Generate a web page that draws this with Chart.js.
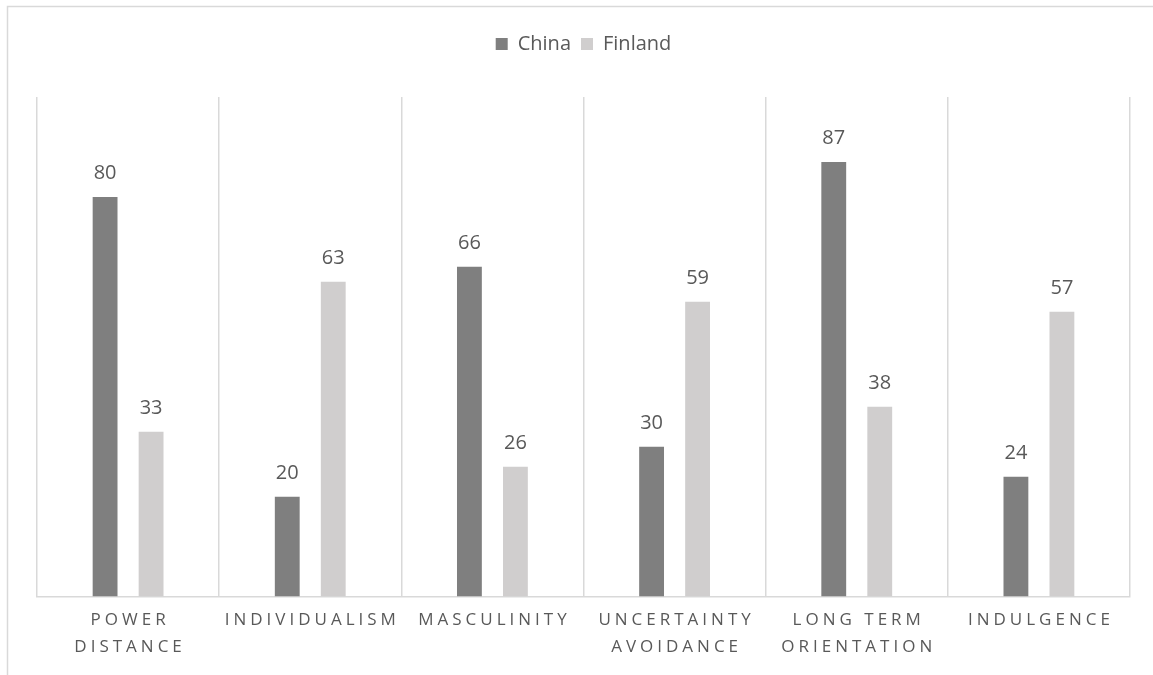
<!DOCTYPE html>
<html>
<head>
<meta charset="utf-8">
<script src="https://cdn.jsdelivr.net/npm/chart.js@4.4.1/dist/chart.umd.min.js"></script>
<style>
  html, body { margin: 0; padding: 0; background: #fff; overflow: hidden; }
  #wrap { width: 1153px; height: 675px; position: relative; }
</style>
</head>
<body>
<div id="wrap"><canvas id="myChart"></canvas></div>
<script>
var categories = [['POWER', 'DISTANCE'], ['INDIVIDUALISM'], ['MASCULINITY'], ['UNCERTAINTY', 'AVOIDANCE'], ['LONG TERM', 'ORIENTATION'], ['INDULGENCE']];
var china = [80, 20, 66, 30, 87, 24];
var finland = [33, 63, 26, 59, 38, 57];

var fontFamily = "'Open Sans', 'Noto Sans', sans-serif";
var textColor = '#595959';

// extra space under the legend
var legendMargin = {
  id: 'legendMargin',
  beforeInit: function(chart) {
    var fit = chart.legend.fit;
    chart.legend.fit = function() {
      fit.bind(chart.legend)();
      this.height += 33;
    };
  }
};

// outer chart frame (only top and left edges fall inside the picture)
var frame = {
  id: 'frame',
  beforeDraw: function(chart) {
    var ctx = chart.ctx;
    ctx.save();
    ctx.strokeStyle = '#d9d9d9';
    ctx.lineWidth = 1.5;
    ctx.strokeRect(7.5, 6.5, 2000, 2000);
    ctx.restore();
  }
};

// bar value labels
var valueLabels = {
  id: 'valueLabels',
  afterDatasetsDraw: function(chart) {
    var ctx = chart.ctx;
    ctx.save();
    ctx.font = '20px ' + fontFamily;
    ctx.fillStyle = textColor;
    ctx.textAlign = 'center';
    ctx.textBaseline = 'alphabetic';
    chart.data.datasets.forEach(function(ds, i) {
      chart.getDatasetMeta(i).data.forEach(function(bar, j) {
        ctx.fillText(ds.data[j], bar.x, bar.y - 18);
      });
    });
    ctx.restore();
  }
};

// category labels with letter spacing
var spacedTicks = {
  id: 'spacedTicks',
  afterDraw: function(chart) {
    var ctx = chart.ctx;
    var xs = chart.scales.x;
    ctx.save();
    ctx.font = '17px ' + fontFamily;
    ctx.fillStyle = textColor;
    ctx.textAlign = 'center';
    ctx.textBaseline = 'middle';
    ctx.letterSpacing = '4px';
    categories.forEach(function(lines, i) {
      var x = xs.getPixelForTick(i) + 2;
      lines.forEach(function(t, k) {
        ctx.fillText(t, x, xs.top + 24 + k * 27);
      });
    });
    ctx.restore();
  }
};

var ctx = document.getElementById('myChart').getContext('2d');
var myChart = new Chart(ctx, {
  type: 'bar',
  data: {
    labels: categories,
    datasets: [{
      label: 'China',
      data: china,
      backgroundColor: '#7f7f7f',
      borderWidth: 0,
      categoryPercentage: 0.505,
      barPercentage: 0.54
    }, {
      label: 'Finland',
      data: finland,
      backgroundColor: '#d0cece',
      borderWidth: 0,
      categoryPercentage: 0.505,
      barPercentage: 0.54
    }]
  },
  options: {
    responsive: true,
    maintainAspectRatio: false,
    animation: false,
    layout: {
      padding: { left: 37, right: 23, top: 24, bottom: 0 }
    },
    plugins: {
      legend: {
        position: 'top',
        labels: {
          boxWidth: 12,
          boxHeight: 12,
          padding: 10,
          color: textColor,
          font: { family: fontFamily, size: 20 }
        }
      },
      tooltip: { enabled: false }
    },
    scales: {
      x: {
        grid: {
          display: true,
          offset: true,
          color: '#d9d9d9',
          lineWidth: 1.5,
          drawTicks: false
        },
        border: { display: true, color: '#d9d9d9', width: 1.5 },
        ticks: {
          color: 'rgba(0,0,0,0)',
          padding: 12,
          font: { family: fontFamily, size: 17, lineHeight: 1.6 }
        }
      },
      y: {
        display: false,
        min: 0,
        max: 100
      }
    }
  },
  plugins: [legendMargin, frame, valueLabels, spacedTicks]
});
</script>
</body>
</html>
